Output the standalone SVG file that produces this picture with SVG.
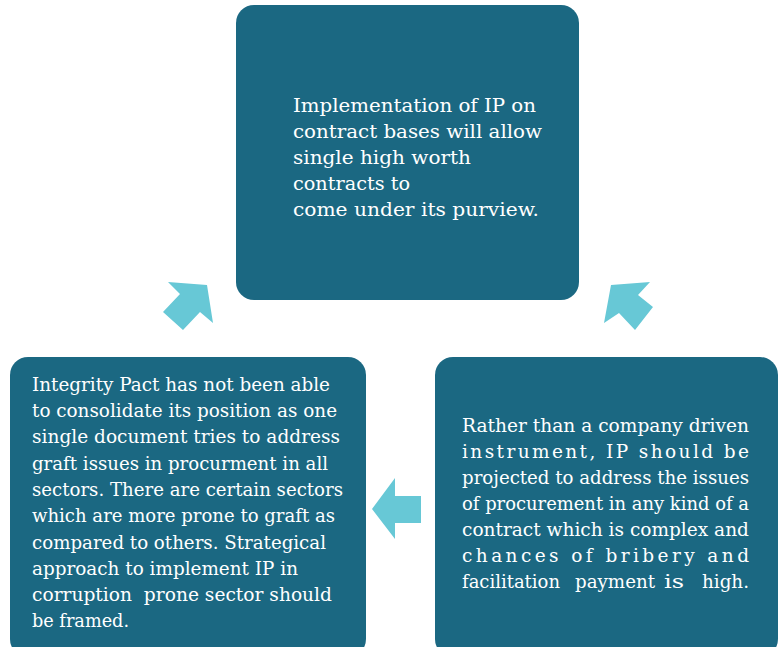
<svg xmlns="http://www.w3.org/2000/svg" width="779" height="647" viewBox="0 0 779 647">
<style>
.box{fill:#1B6882;}
.t{font-family:"DejaVu Serif","Liberation Serif",serif;font-size:18.5px;fill:#ffffff;}
.arr{fill:#67C8D6;}
</style>
<rect width="779" height="647" fill="#ffffff"/>
<g id="connectors">
<polygon class="arr" points="168,282 207,285 213,323 200,312 183,330 163,312 180,294"/>
<polygon class="arr" points="611,285 650,282 638,295 653,307 635,330 619,313 604,323"/>
<polygon class="arr" points="372,509 395,478 395,496 421,496 421,523 395,523 395,539"/>
</g>
<g id="node-top">
<rect class="box" x="236" y="5" width="343" height="295" rx="18"/>
<text class="t" x="293" y="112" textLength="243" lengthAdjust="spacingAndGlyphs">Implementation of IP on</text>
<text class="t" x="293" y="138" textLength="249" lengthAdjust="spacingAndGlyphs">contract bases will allow</text>
<text class="t" x="293" y="164" textLength="178" lengthAdjust="spacingAndGlyphs">single high worth</text>
<text class="t" x="293" y="190" textLength="117" lengthAdjust="spacingAndGlyphs">contracts to</text>
<text class="t" x="293" y="216" textLength="246" lengthAdjust="spacingAndGlyphs">come under its purview.</text>
</g>
<g id="node-left">
<rect class="box" x="10" y="357" width="356" height="300" rx="18"/>
<text class="t" x="32" y="391" textLength="298" lengthAdjust="spacingAndGlyphs">Integrity Pact has not been able</text>
<text class="t" x="32" y="417" textLength="305" lengthAdjust="spacingAndGlyphs">to consolidate its position as one</text>
<text class="t" x="32" y="443" textLength="308" lengthAdjust="spacingAndGlyphs">single document tries to address</text>
<text class="t" x="32" y="470" textLength="296" lengthAdjust="spacingAndGlyphs">graft issues in procurment in all</text>
<text class="t" x="32" y="496" textLength="311" lengthAdjust="spacingAndGlyphs">sectors. There are certain sectors</text>
<text class="t" x="32" y="522" textLength="303" lengthAdjust="spacingAndGlyphs">which are more prone to graft as</text>
<text class="t" x="32" y="549" textLength="294" lengthAdjust="spacingAndGlyphs">compared to others. Strategical</text>
<text class="t" x="32" y="575" textLength="266" lengthAdjust="spacingAndGlyphs">approach to implement IP in</text>
<text class="t" x="32" y="601" textLength="300" lengthAdjust="spacingAndGlyphs" xml:space="preserve">corruption  prone sector should</text>
<text class="t" x="32" y="627" textLength="97" lengthAdjust="spacingAndGlyphs">be framed.</text>
</g>
<g id="node-right">
<rect class="box" x="435" y="357" width="343" height="300" rx="18"/>
<text class="t" x="462" y="432" textLength="287" lengthAdjust="spacingAndGlyphs">Rather than a company driven</text>
<text class="t" x="462" y="458" textLength="287" lengthAdjust="spacing">instrument, IP should be</text>
<text class="t" x="462" y="484" textLength="287" lengthAdjust="spacingAndGlyphs">projected to address the issues</text>
<text class="t" x="462" y="510" textLength="287" lengthAdjust="spacingAndGlyphs">of procurement in any kind of a</text>
<text class="t" x="462" y="536" textLength="287" lengthAdjust="spacingAndGlyphs">contract which is complex and</text>
<text class="t" x="462" y="562" textLength="287" lengthAdjust="spacing">chances of bribery and</text>
<text class="t" y="588"><tspan x="462" textLength="98" lengthAdjust="spacingAndGlyphs">facilitation</tspan> <tspan x="575" textLength="80" lengthAdjust="spacingAndGlyphs">payment</tspan> <tspan x="664" textLength="20" lengthAdjust="spacingAndGlyphs">is</tspan> <tspan x="702" textLength="47" lengthAdjust="spacingAndGlyphs">high.</tspan></text>
</g>
</svg>
